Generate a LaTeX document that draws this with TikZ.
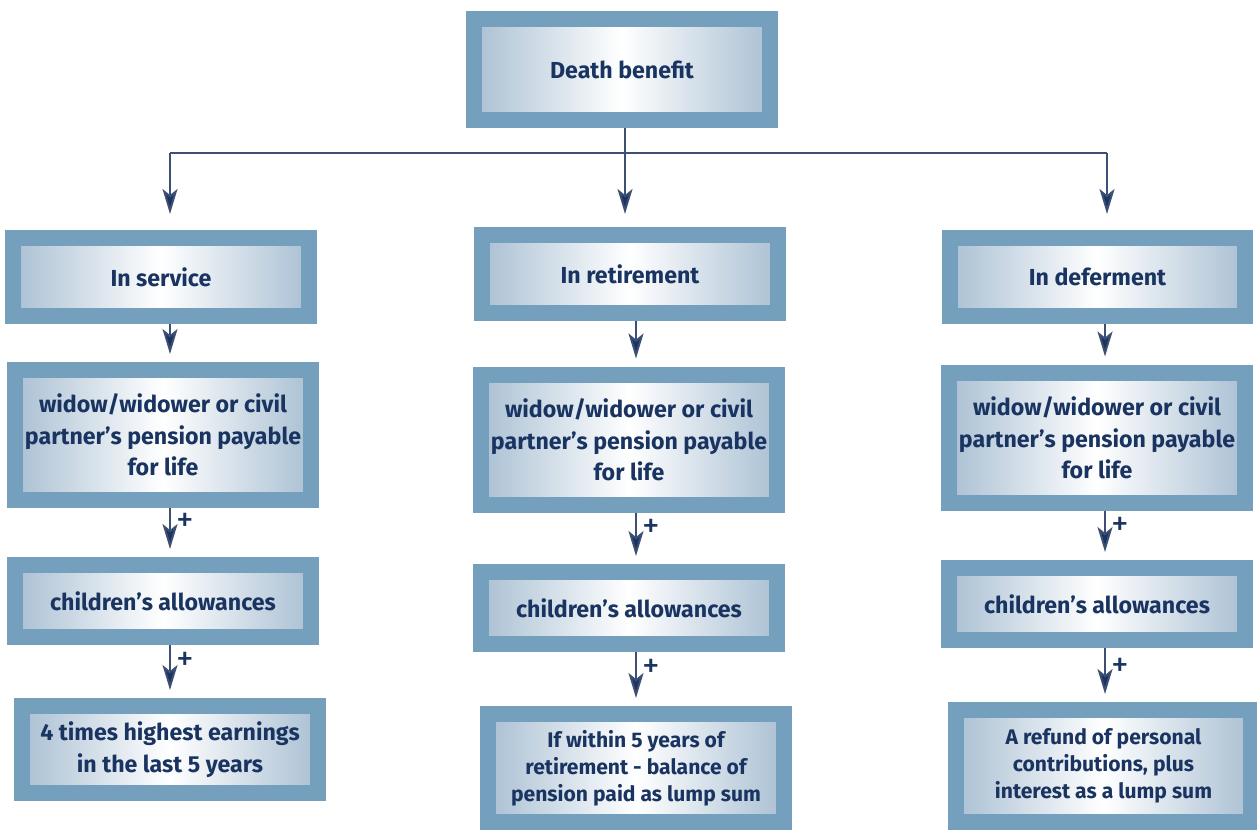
\documentclass[tikz,border=0pt]{standalone}
\usepackage{fontspec}
\setmainfont{Fira Sans}
\usetikzlibrary{arrows.meta}

\definecolor{frame}{HTML}{74A0BD}
\definecolor{shade}{HTML}{AAC0D3}
\definecolor{ink}{HTML}{1A3461}
\definecolor{wire}{HTML}{3D5073}

\begin{document}
\begin{tikzpicture}[x=0.02cm,y=-0.02cm,
  box/.style={draw=frame,line width=0.32cm,left color=shade,right color=shade,middle color=white,
    minimum width=5.92cm,align=center,text=ink,font=\bfseries\fontsize{13.2}{18}\selectfont},
  small/.style={font=\bfseries\fontsize{12}{15.3}\selectfont},
  link/.style={draw=wire,line width=1.1pt,-{Stealth[length=0.5cm,width=0.3cm,inset=0.12cm,fill=ink]}},
  step2/.style={link,shorten >=0.16cm},
  plus/.style={text=ink,font=\fontsize{20}{20}\selectfont,xshift=0.3cm}]
\useasboundingbox (0,0) rectangle (1257,832);

\node[box,minimum height=2.02cm] (death) at (622,69.5) {Death benefit};

\node[box,minimum height=1.56cm] (serv) at (161,277) {In service};
\node[box,minimum height=1.56cm] (ret) at (630,274) {In retirement};
\node[box,minimum height=1.56cm] (def) at (1097.5,277) {In deferment};

\node[box,minimum height=2.6cm] (wserv) at (163,435) {widow/widower or civil\\partner’s pension payable\\for life};
\node[box,minimum height=2.62cm] (wret) at (629,440) {widow/widower or civil\\partner’s pension payable\\for life};
\node[box,minimum height=2.62cm] (wdef) at (1097,438) {widow/widower or civil\\partner’s pension payable\\for life};

\node[box,minimum height=1.44cm] (cserv) at (163,601) {children’s allowances};
\node[box,minimum height=1.44cm] (cret) at (629,608) {children’s allowances};
\node[box,minimum height=1.44cm] (cdef) at (1097,604) {children’s allowances};

\node[box,minimum height=1.74cm] (lserv) at (170,749.5) {4 times highest earnings\\in the last 5 years};
\node[box,small,minimum height=2.16cm] (lret) at (636,768) {If within 5 years of\\retirement - balance of\\pension paid as lump sum};
\node[box,small,minimum height=2.24cm] (ldef) at (1103.5,766) {A refund of personal\\contributions, plus\\interest as a lump sum};

% branch lines
\coordinate (bar) at (0,153);
\coordinate (drop) at (0,214);
\coordinate (xa) at (170,0);
\coordinate (xb) at (625,0);
\coordinate (xc) at (1107,0);
\draw[draw=wire,line width=1.1pt] (xa |- bar) -- (xc |- bar);
\draw[link] (death.south -| xb) -- (xb |- drop);
\draw[link] (xa |- bar) -- (xa |- drop);
\draw[link] (xc |- bar) -- (xc |- drop);

% columns
\coordinate (ka) at (170,0);
\coordinate (kb) at (636,0);
\coordinate (kc) at (1105,0);
\draw[step2] (serv.south -| ka) -- (wserv.north -| ka);
\draw[step2] (ret.south -| kb) -- (wret.north -| kb);
\draw[step2] (def.south -| kc) -- (wdef.north -| kc);

\draw[step2] (wserv.south -| ka) -- (cserv.north -| ka) node[plus,pos=.3] {+};
\draw[step2] (wret.south -| kb) -- (cret.north -| kb) node[plus,pos=.3] {+};
\draw[step2] (wdef.south -| kc) -- (cdef.north -| kc) node[plus,pos=.3] {+};

\draw[step2] (cserv.south -| ka) -- (lserv.north -| ka) node[plus,pos=.3] {+};
\draw[step2] (cret.south -| kb) -- (lret.north -| kb) node[plus,pos=.3] {+};
\draw[step2] (cdef.south -| kc) -- (ldef.north -| kc) node[plus,pos=.35] {+};
\end{tikzpicture}
\end{document}
